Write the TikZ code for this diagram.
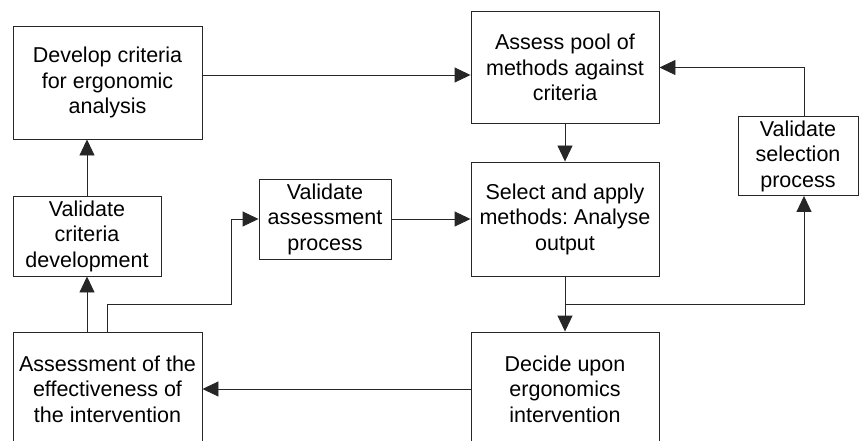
\documentclass[tikz,border=0pt]{standalone}
\usepackage{fontspec}
\setmainfont{Liberation Sans}
\usetikzlibrary{arrows.meta}
\begin{document}
\begin{tikzpicture}[x=1pt,y=-1pt,
  box/.style={draw=black!85,line width=0.9pt,fill=white,inner sep=0pt,align=center,
    font=\fontsize{21.5}{25.5}\selectfont\frenchspacing},
  arr/.style={draw=black!85,line width=0.9pt,-{Triangle[length=16pt,width=15pt]}},
  ln/.style={draw=black!85,line width=0.9pt}]
\useasboundingbox (0,0) rectangle (859,441);
\clip (0,0) rectangle (859,441);
\node[box,minimum width=189pt,minimum height=113pt] (dev) at (107.5,82.5) {Develop criteria\\for ergonomic\\analysis};
\node[box,minimum width=188pt,minimum height=112pt] (assess) at (565,67.5) {Assess pool of\\methods against\\criteria};
\node[box,minimum width=120pt,minimum height=79pt] (valsel) at (798,156) {Validate\\selection\\process};
\node[box,minimum width=188pt,minimum height=114pt] (select) at (565,219) {Select and apply\\methods: Analyse\\output};
\node[box,minimum width=148pt,minimum height=80pt] (valcrit) at (87,236) {Validate\\criteria\\development};
\node[box,minimum width=132pt,minimum height=80pt] (valass) at (325,219) {Validate\\assessment\\process};
\node[box,minimum width=188pt,minimum height=114pt] (decide) at (565,389) {Decide upon\\ergonomics\\intervention};
\node[box,minimum width=189pt,minimum height=114pt] (asseff) at (107.5,389) {Assessment of the\\effectiveness of\\the intervention};
\coordinate (j) at (565,304);
\coordinate (k) at (231,304);
\coordinate (h) at (0,75);
% connectors
\draw[arr] (dev.east |- h) -- (assess.west |- h);
\draw[arr] ([xshift=6pt]valsel.north) |- (assess.east);
\draw[arr] (assess.south) -- (select.north);
\draw[arr] (select.south) -- (decide.north);
\draw[arr] (j) -| ([xshift=6pt]valsel.south);
\draw[arr] (decide.west) -- (asseff.east);
\draw[arr] (asseff.north -| valcrit.south) -- (valcrit.south);
\draw[arr] (valcrit.north) -- (valcrit.north |- dev.south);
\draw[arr] (asseff.north) |- (k) |- (valass.west);
\draw[arr] (valass.east) -- (select.west);
\end{tikzpicture}
\end{document}
